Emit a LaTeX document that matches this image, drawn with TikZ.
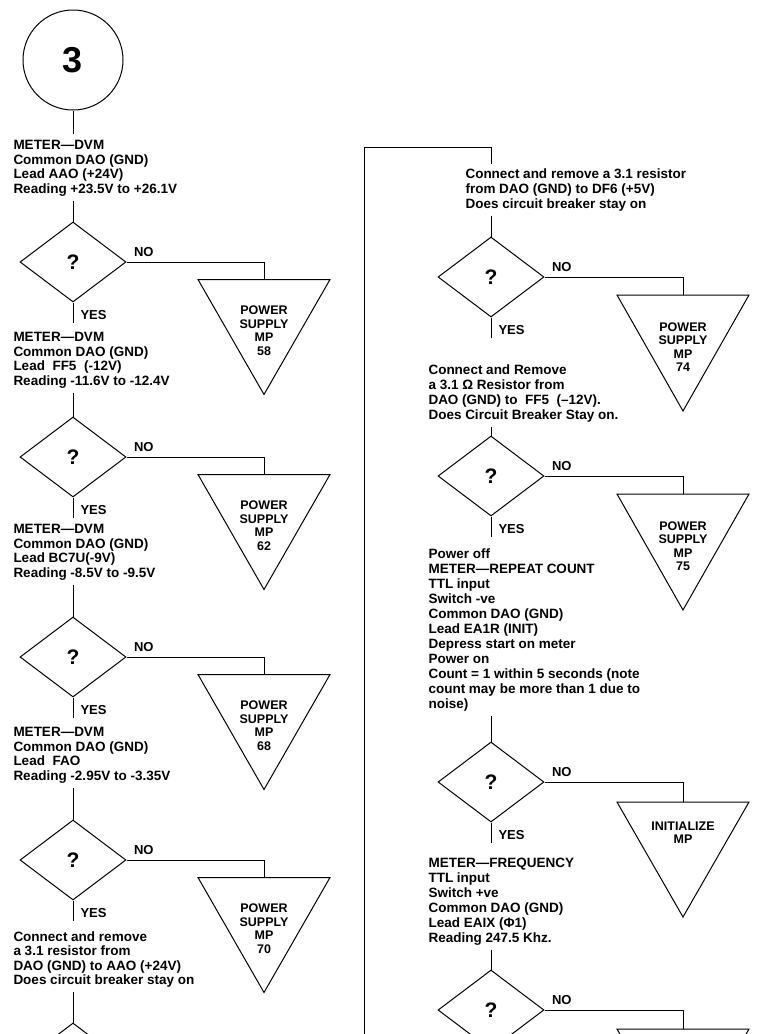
\documentclass[tikz,border=0pt]{standalone}
\usepackage{fontspec}
\setmainfont{Liberation Sans}
\usetikzlibrary{shapes.geometric}
\begin{document}
\begin{tikzpicture}[x=1pt,y=-1pt,line width=1pt,
  dec/.style={diamond, draw, minimum width=106pt, minimum height=80pt, inner sep=0pt, font=\bfseries\fontsize{21}{21}\selectfont},
  blk/.style={anchor=north west, inner sep=0pt, align=left, font=\bfseries\fontsize{13.5}{14.5}\selectfont},
  blkr/.style={anchor=north west, inner sep=0pt, align=left, font=\bfseries\fontsize{13.5}{15}\selectfont},
  tritxt/.style={anchor=north, inner sep=0pt, align=center, font=\bfseries\fontsize{12.5}{13.5}\selectfont},
  lbl/.style={inner sep=0pt, font=\bfseries\fontsize{13}{13}\selectfont},
  trishape/.style={draw, line join=miter},
]
\useasboundingbox (0,0) rectangle (756,1034);
\clip (0,0) rectangle (756,1034);

% ---------- left column ----------
\node[circle, draw, minimum size=100pt, inner sep=0pt, font=\bfseries\fontsize{36}{36}\selectfont] (c3) at (73,60) {3};
\node[blk] (b1) at (13,140) {METER—DVM\\Common DAO (GND)\\Lead AAO (+24V)\\Reading +23.5V to +26.1V};
\draw (c3.south) -- ([yshift=6pt]c3.south |- b1.north);

% decision 1
\node[dec] (d1) at (73,262) {?};
\draw ([yshift=-4pt]d1.north |- b1.south) -- (d1.north);
\node[lbl, anchor=south west] (n1) at ([xshift=7pt,yshift=5pt]d1.east) {NO};
\coordinate (t1) at (264,279.5);
\draw (d1.east) -| (t1);
\draw[trishape] ([xshift=-66pt]t1) -- ([xshift=66pt]t1) -- ([yshift=-115pt]t1) -- cycle;
\node[tritxt] (p1) at ([yshift=-26pt]t1) {POWER\\SUPPLY\\MP\\58};
\coordinate (y1) at ([yshift=-20pt]d1.south);
\draw (d1.south) -- (y1);
\node[lbl, anchor=west] (yes1) at ([xshift=7pt,yshift=7pt]y1) {YES};
\node[blk] (b2) at (13,332) {METER—DVM\\Common DAO (GND)\\Lead\ \ FF5\ \ (-12V)\\Reading -11.6V to -12.4V};

% decision 2
\node[dec] (d2) at (73,457) {?};
\draw ([yshift=-4pt]d2.north |- b2.south) -- (d2.north);
\node[lbl, anchor=south west] (n2) at ([xshift=7pt,yshift=5pt]d2.east) {NO};
\coordinate (t2) at (264,474.5);
\draw (d2.east) -| (t2);
\draw[trishape] ([xshift=-66pt]t2) -- ([xshift=66pt]t2) -- ([yshift=-115pt]t2) -- cycle;
\node[tritxt] (p2) at ([yshift=-26pt]t2) {POWER\\SUPPLY\\MP\\62};
\coordinate (y2) at ([yshift=-20pt]d2.south);
\draw (d2.south) -- (y2);
\node[lbl, anchor=west] (yes2) at ([xshift=7pt,yshift=7pt]y2) {YES};
\node[blk] (b3) at (13,524) {METER—DVM\\Common DAO (GND)\\Lead BC7U(-9V)\\Reading -8.5V to -9.5V};

% decision 3
\node[dec] (d3) at (73,657) {?};
\draw ([yshift=-4pt]d3.north |- b3.south) -- (d3.north);
\node[lbl, anchor=south west] (n3) at ([xshift=7pt,yshift=5pt]d3.east) {NO};
\coordinate (t3) at (264,674.5);
\draw (d3.east) -| (t3);
\draw[trishape] ([xshift=-66pt]t3) -- ([xshift=66pt]t3) -- ([yshift=-115pt]t3) -- cycle;
\node[tritxt] (p3) at ([yshift=-26pt]t3) {POWER\\SUPPLY\\MP\\68};
\coordinate (y3) at ([yshift=-20pt]d3.south);
\draw (d3.south) -- (y3);
\node[lbl, anchor=west] (yes3) at ([xshift=7pt,yshift=7pt]y3) {YES};
\node[blk] (b4) at (13,727) {METER—DVM\\Common DAO (GND)\\Lead\ \ FAO\\Reading -2.95V to -3.35V};

% decision 4
\node[dec] (d4) at (73,860) {?};
\draw ([yshift=-4pt]d4.north |- b4.south) -- (d4.north);
\node[lbl, anchor=south west] (n4) at ([xshift=7pt,yshift=5pt]d4.east) {NO};
\coordinate (t4) at (264,877.5);
\draw (d4.east) -| (t4);
\draw[trishape] ([xshift=-66pt]t4) -- ([xshift=66pt]t4) -- ([yshift=-115pt]t4) -- cycle;
\node[tritxt] (p4) at ([yshift=-26pt]t4) {POWER\\SUPPLY\\MP\\70};
\coordinate (y4) at ([yshift=-20pt]d4.south);
\draw (d4.south) -- (y4);
\node[lbl, anchor=west] (yes4) at ([xshift=7pt,yshift=7pt]y4) {YES};
\node[blk] (b5) at (13,931) {Connect and remove\\a 3.1 resistor from\\DAO (GND) to AAO (+24V)\\Does circuit breaker stay on};

% decision 5 (cut off)
\node[dec] (d5) at (73,1063) {};
\draw ([yshift=-4pt]d5.north |- b5.south) -- (d5.north);

% ---------- right column ----------
\coordinate (bb) at (364,1034);
\coordinate (bt) at (364,147);
\node[blkr] (r1t) at (465,168) {Connect and remove a 3.1 resistor\\from DAO (GND) to DF6 (+5V)\\Does circuit breaker stay on};
\node[dec] (r1) at (491,277) {?};
\draw (bb) -- (bt) -| ([yshift=4pt]r1.north |- r1t.north);
\draw ([yshift=-4pt]r1.north |- r1t.south) -- (r1.north);
\node[lbl, anchor=south west] (rn1) at ([xshift=7pt,yshift=5pt]r1.east) {NO};
\coordinate (rt1) at (683,295);
\draw (r1.east) -| (rt1);
\draw[trishape] ([xshift=-66pt]rt1) -- ([xshift=66pt]rt1) -- ([yshift=-116pt]rt1) -- cycle;
\node[tritxt] (rp1) at ([yshift=-27pt]rt1) {POWER\\SUPPLY\\MP\\74};
\coordinate (ry1) at ([yshift=-20pt]r1.south);
\draw (r1.south) -- (ry1);
\node[lbl, anchor=west] (ryes1) at ([xshift=7pt,yshift=7pt]ry1) {YES};
\node[blkr] (r2t) at (428,364) {Connect and Remove\\a 3.1 Ω Resistor from\\DAO (GND) to\ \ FF5\ \ (–12V).\\Does Circuit Breaker Stay on.};

\node[dec] (r2) at (491,476) {?};
\draw ([yshift=-4pt]r2.north |- r2t.south) -- (r2.north);
\node[lbl, anchor=south west] (rn2) at ([xshift=7pt,yshift=5pt]r2.east) {NO};
\coordinate (rt2) at (683,494);
\draw (r2.east) -| (rt2);
\draw[trishape] ([xshift=-66pt]rt2) -- ([xshift=66pt]rt2) -- ([yshift=-116pt]rt2) -- cycle;
\node[tritxt] (rp2) at ([yshift=-27pt]rt2) {POWER\\SUPPLY\\MP\\75};
\coordinate (ry2) at ([yshift=-20pt]r2.south);
\draw (r2.south) -- (ry2);
\node[lbl, anchor=west] (ryes2) at ([xshift=7pt,yshift=7pt]ry2) {YES};
\node[blkr] (r3t) at (428,548) {Power off\\METER—REPEAT COUNT\\TTL input\\Switch -ve\\Common DAO (GND)\\Lead EA1R (INIT)\\Depress start on meter\\Power on\\Count = 1 within 5 seconds (note\\count may be more than 1 due to\\noise)};

\node[dec] (r3) at (491,782) {?};
\draw ([yshift=-4pt]r3.north |- r3t.south) -- (r3.north);
\node[lbl, anchor=south west] (rn3) at ([xshift=7pt,yshift=5pt]r3.east) {NO};
\coordinate (rt3) at (683,802);
\draw (r3.east) -| (rt3);
\draw[trishape] ([xshift=-66pt]rt3) -- ([xshift=66pt]rt3) -- ([yshift=-115pt]rt3) -- cycle;
\node[tritxt] (rp3) at ([yshift=-19pt]rt3) {INITIALIZE\\MP};
\coordinate (ry3) at ([yshift=-20pt]r3.south);
\draw (r3.south) -- (ry3);
\node[lbl, anchor=west] (ryes3) at ([xshift=7pt,yshift=7pt]ry3) {YES};
\node[blkr] (r4t) at (428,858) {METER—FREQUENCY\\TTL input\\Switch +ve\\Common DAO (GND)\\Lead EAIX (Φ1)\\Reading 247.5 Khz.};

\node[dec] (r4) at (491,1010) {?};
\draw ([yshift=-4pt]r4.north |- r4t.south) -- (r4.north);
\node[lbl, anchor=south west] (rn4) at ([xshift=7pt,yshift=5pt]r4.east) {NO};
\coordinate (rt4) at (683,1029);
\draw (r4.east) -| (rt4);
\draw[trishape] ([xshift=-66pt]rt4) -- ([xshift=66pt]rt4) -- ([yshift=-115pt]rt4) -- cycle;
\end{tikzpicture}
\end{document}
